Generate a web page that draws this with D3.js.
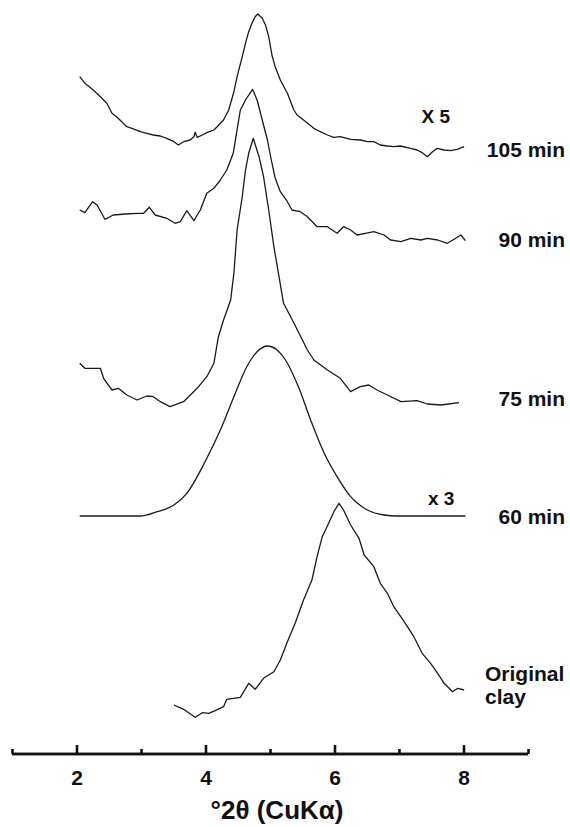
<!DOCTYPE html>
<html>
<head>
<meta charset="utf-8">
<script src="https://cdn.jsdelivr.net/npm/d3@7"></script>
<style>
  body { margin: 0; background: #fff; }
  text { font-family: "Liberation Sans", Arial, sans-serif; font-weight: bold; fill: #111; }
</style>
</head>
<body>
<script>
// traces: [°2θ, intensity above own baseline]
const clay = [
  [3.51, 5], [3.66, 0.7], [3.84, -7.3], [3.95, -2.7], [4.05, -3.3], [4.15, -0.7], [4.28, 3.3],
  [4.33, 10.7], [4.54, 12.7], [4.67, 26.7], [4.77, 20.7], [4.9, 31.7], [5.06, 38.3], [5.16, 50],
  [5.27, 68.3], [5.39, 86.7], [5.52, 110], [5.65, 130], [5.73, 153.3], [5.81, 173.3], [5.91, 186.7],
  [5.99, 198.3], [6.07, 206.7], [6.14, 200], [6.25, 185], [6.38, 171.7], [6.46, 155], [6.61, 143.3],
  [6.71, 126.7], [6.82, 116.7], [6.92, 103.3], [7.08, 88.3], [7.23, 73.3], [7.36, 56.7], [7.49, 46.7],
  [7.6, 36.7], [7.7, 26.7], [7.83, 18.3], [7.91, 21.7], [8.01, 20],
]
const min60 = [
  [2.05, 0], [2.99, 0], [3.25, 4.3], [3.51, 11], [3.71, 22.7], [4.02, 57.7], [4.23, 86],
  [4.44, 119.3], [4.64, 149.3], [4.8, 164.3], [4.96, 170], [5.11, 166], [5.24, 156], [5.45, 127.7],
  [5.63, 96], [5.83, 64.3], [6.04, 39.3], [6.25, 19.3], [6.51, 6], [6.77, 1], [6.97, 0], [8.03, 0],
]
const min75 = [
  [2.05, 41.7], [2.13, 36.7], [2.24, 36.7], [2.37, 36.7], [2.42, 26.7], [2.55, 15], [2.65, 16.7],
  [2.78, 10], [2.94, 5], [3.09, 9], [3.19, 8.3], [3.3, 3.3], [3.45, -1.7], [3.66, 3.3], [3.87, 16.7],
  [4.02, 28.3], [4.13, 41.7], [4.2, 68.3], [4.28, 85], [4.39, 105], [4.44, 131.7], [4.49, 175],
  [4.57, 208.3], [4.62, 235], [4.67, 251.7], [4.74, 266.7], [4.83, 248.3], [4.9, 228.3], [4.98, 195],
  [5.06, 158.3], [5.14, 128.3], [5.21, 101.7], [5.32, 88.3], [5.45, 71.7], [5.58, 55], [5.68, 45],
  [5.89, 35], [6.09, 26.7], [6.25, 13.3], [6.4, 18.3], [6.53, 20], [6.66, 15], [6.82, 10], [7.03, 3.3],
  [7.28, 4.3], [7.44, 1], [7.65, 0], [7.93, 2.3],
]
const min90 = [
  [2.05, 30], [2.13, 27.3], [2.25, 38.3], [2.32, 35], [2.44, 20.7], [2.57, 25], [2.76, 26],
  [2.94, 26.7], [3.04, 26.7], [3.13, 32.7], [3.22, 25], [3.4, 21.7], [3.53, 16.7], [3.61, 18.3],
  [3.71, 29.3], [3.82, 19.3], [3.92, 30], [4.02, 46.7], [4.13, 51.7], [4.23, 60], [4.33, 70],
  [4.43, 86.7], [4.54, 130], [4.62, 140], [4.73, 150.7], [4.8, 140], [4.88, 120], [4.96, 100],
  [5.02, 80], [5.08, 62], [5.16, 48.3], [5.27, 38.3], [5.34, 30], [5.47, 28.3], [5.58, 23.3],
  [5.73, 13.3], [5.89, 13.3], [6.04, 6.7], [6.14, 13.3], [6.25, 10], [6.35, 5], [6.48, 6.7],
  [6.61, 8.3], [6.77, 5], [6.87, 0], [7.03, -1.7], [7.18, 1.7], [7.34, 0], [7.44, 1.7], [7.6, 0],
  [7.75, -3.3], [7.88, 1.7], [7.96, 5], [8.03, -0.7],
]
const min105 = [
  [2.05, 77.3], [2.13, 70.7], [2.26, 64], [2.37, 57.3], [2.47, 50.7], [2.55, 40.7], [2.63, 36.7],
  [2.78, 27.3], [2.86, 25.7], [2.99, 22.3], [3.09, 20.7], [3.19, 19], [3.3, 18], [3.4, 15.7],
  [3.51, 12.3], [3.58, 9], [3.66, 12.3], [3.76, 14], [3.82, 17.3], [3.84, 21.7], [3.87, 16.7],
  [3.95, 19], [4.02, 21.3], [4.13, 24], [4.18, 27.3], [4.28, 34], [4.36, 44], [4.44, 62.3],
  [4.49, 77.3], [4.57, 97.3], [4.62, 110.7], [4.67, 122.3], [4.72, 130.7], [4.77, 137.3], [4.81, 140],
  [4.88, 135.7], [4.93, 129], [4.98, 117.3], [5.03, 99], [5.08, 87.3], [5.16, 74], [5.27, 60.7],
  [5.37, 44], [5.42, 39], [5.52, 34], [5.68, 25.7], [5.78, 22.3], [5.89, 19], [5.99, 16.7],
  [6.09, 17.3], [6.25, 14.7], [6.4, 14], [6.51, 12.3], [6.61, 12.3], [6.71, 9], [6.82, 8],
  [6.92, 7.3], [7.02, 8], [7.18, 5.7], [7.28, 4], [7.36, 1.3], [7.44, -2.7], [7.52, 2.3],
  [7.59, 5.7], [7.7, 4], [7.8, 3.3], [7.9, 4.7], [8.01, 7.3],
]

const traces = [clay, min60, min75, min90, min105]
const traceOffsets = [44, 238, 349, 514, 600]
const traceLabels = [["Original", "clay"], ["60 min"], ["75 min"], ["90 min"], ["105 min"]]
const labelLevels = [73, 230, 348, 507, 597]
const scaleNotes = ["x 3", "X 5"]
const scaleNoteAt = [[7.45, 249], [7.35, 631]]

const majorTicks = [2, 4, 6, 8]
const minorTicks = [1, 3, 5, 7, 9]
const xTitle = "°2θ (CuKα)"

const dimensions = {
  width: 570,
  height: 827,
  axisY: 754,
}

const wrapper = d3.select("body")
  .append("svg")
    .attr("width", dimensions.width)
    .attr("height", dimensions.height)

wrapper.append("rect")
    .attr("width", dimensions.width)
    .attr("height", dimensions.height)
    .attr("fill", "#fff")

// scales
const xScale = d3.scaleLinear()
  .domain([1, 9])
  .range([12, 528])

const yScale = d3.scaleLinear()
  .domain([0, 750])
  .range([dimensions.axisY, 4])

const lineGenerator = (offset, smooth) => d3.line()
  .x(d => xScale(d[0]))
  .y(d => yScale(d[1] + offset))
  .curve(smooth ? d3.curveMonotoneX : d3.curveLinear)

// draw traces (60 min pattern is a smoothed one)
wrapper.selectAll("path.trace")
  .data(traces)
  .join("path")
    .attr("class", "trace")
    .attr("fill", "none")
    .attr("stroke", "#1a1a1a")
    .attr("stroke-width", 1.3)
    .attr("stroke-linejoin", "round")
    .attr("d", (d, i) => lineGenerator(traceOffsets[i], d === min60)(d))

// trace labels: multi-line one is left aligned, the rest right aligned
const labels = wrapper.selectAll("text.label")
  .data(traceLabels)
  .join("text")
    .attr("class", "label")
    .attr("y", (d, i) => yScale(labelLevels[i]))
    .attr("x", d => d.length > 1 ? 485 : 565)
    .attr("text-anchor", d => d.length > 1 ? "start" : "end")
    .style("font-size", "21px")

labels.selectAll("tspan")
  .data(d => d)
  .join("tspan")
    .attr("x", function() { return this.parentNode.getAttribute("x") })
    .attr("dy", (d, i) => i == 0 ? 0 : 23)
    .text(d => d)

// scale notes
wrapper.selectAll("text.note")
  .data(scaleNotes)
  .join("text")
    .attr("class", "note")
    .attr("x", (d, i) => xScale(scaleNoteAt[i][0]))
    .attr("y", (d, i) => yScale(scaleNoteAt[i][1]))
    .style("font-size", "19px")
    .text(d => d)

// axis
const minorAxis = wrapper.append("g")
  .attr("transform", `translate(0, ${dimensions.axisY})`)
  .call(d3.axisBottom(xScale).tickValues(minorTicks).tickSize(-5).tickFormat(""))

const majorAxis = wrapper.append("g")
  .attr("transform", `translate(0, ${dimensions.axisY})`)
  .call(d3.axisBottom(xScale).tickValues(majorTicks).tickSize(-9).tickPadding(16).tickFormat(d3.format("d")))

wrapper.selectAll(".domain")
  .attr("d", `M${xScale(1)},0H${xScale(9)}`)
  .attr("stroke", "#111")
  .attr("stroke-width", 2.6)

wrapper.selectAll(".tick line")
  .attr("stroke", "#111")
  .attr("stroke-width", 2.6)

majorAxis.selectAll(".tick text")
  .style("font-family", "'Liberation Sans', Arial, sans-serif")
  .style("font-weight", "bold")
  .style("font-size", "21px")
  .attr("fill", "#111")

wrapper.append("text")
    .attr("x", 277)
    .attr("y", 819)
    .attr("text-anchor", "middle")
    .style("font-size", "26px")
    .text(xTitle)
</script>
</body>
</html>
